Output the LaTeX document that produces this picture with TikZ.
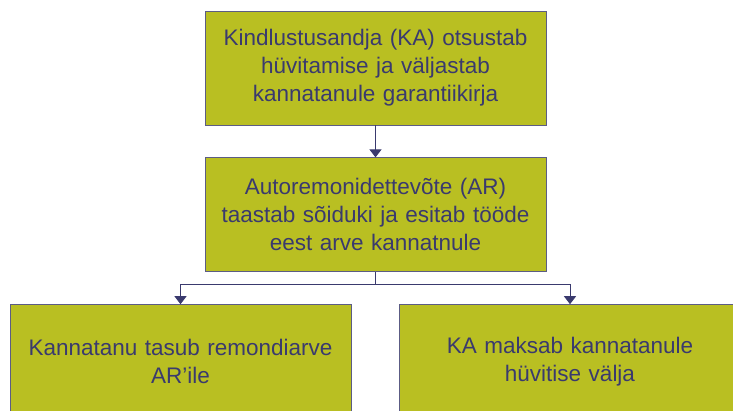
\documentclass[tikz,border=0pt]{standalone}
\usepackage{fontspec}
\setmainfont{Liberation Sans}
\usetikzlibrary{arrows.meta,positioning}
\definecolor{boxfill}{HTML}{B9BF22}
\definecolor{boxline}{HTML}{5C5C84}
\definecolor{navy}{HTML}{3A3A6E}
\tikzset{stepbox/.style={rectangle,draw=boxline,fill=boxfill,line width=0.8pt,
    minimum width=341pt,minimum height=114pt,text width=330pt,align=center,
    text=navy,font=\fontsize{22.5}{28}\selectfont}}

\begin{document}
\begin{tikzpicture}[x=1pt,y=1pt,node distance=32pt,>={Triangle[width=12pt,length=8pt]}]
  \useasboundingbox (0,0) rectangle (733,-410);
  \clip (0,0) rectangle (733,-410);
  \node[stepbox] (ka) at (375.5,-68) {Kindlustusandja (KA) otsustab\\hüvitamise ja väljastab\\kannatanule garantiikirja};
  \node[stepbox,below=of ka] (ar) {Autoremonidettevõte (AR)\\taastab sõiduki ja esitab tööde\\eest arve kannatnule};
  \node[stepbox,below=of ar,xshift=-195pt] (pay) {Kannatanu tasub remondiarve\\AR’ile};
  \node[stepbox,below=of ar,xshift=194.5pt] (comp) {KA maksab kannatanule\\hüvitise välja};
  \coordinate (split) at ([yshift=-12pt]ar.south);
  \draw[->,navy,line width=1pt] (ka) -- (ar);
  \draw[navy,line width=1pt] (ar) -- (split);
  \draw[->,navy,line width=1pt] (split) -| (pay);
  \draw[->,navy,line width=1pt] (split) -| (comp);
\end{tikzpicture}
\end{document}
